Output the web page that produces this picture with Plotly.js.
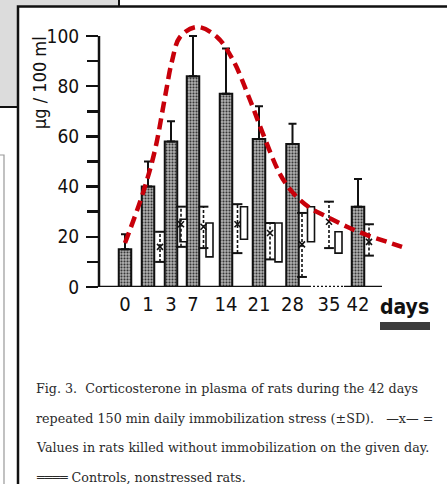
<!DOCTYPE html>
<html>
<head>
<meta charset="utf-8">
<script src="https://cdn.plot.ly/plotly-3.0.1.min.js"></script>
<style>html,body{margin:0;padding:0;background:#fff}#chart{width:447px;height:484px}</style>
</head>
<body>
<div id="chart"></div>
<script>
// ---------- data ----------
const dayLabels   = ['0','1','3','7','14','21','28','35','42'];

// stressed rats: mean and upper end of +SD bar
const stressDays  = ['0','1','3','7','14','21','28','42'];
const stressMean  = [15, 40, 58, 84, 77, 59, 57, 32];
const stressSDtop = [21, 50, 66, 100, 95, 72, 65, 43];

// rats killed without immobilization on given day (-x-)
const killedDays  = ['1','3','7','14','21','28','35','42'];
const killedMean  = [16, 25, 24, 25, 21.5, 17, 26, 18];
const killedLow   = [10, 16, 15.5, 13.5, 11, 4, 15.5, 12.5];
const killedHigh  = [22, 32, 32, 33, 25.5, 29.5, 34, 25];

// controls, nonstressed rats (open boxes = range)
const controlDays = ['3','7','14','21','28','35'];
const controlLow  = [18, 12, 19, 10, 18, 13.5];
const controlHigh = [27, 25.5, 32, 25.5, 32, 22];

// red dashed trend curve drawn over the figure
const curveX = [2.6, 4.4, 5.6, 6.6, 7.3, 8.1, 9.8, 11.8, 13.4, 15.1, 16.4, 18.1, 19.4, 21.1, 22.8, 24.8, 26.8, 28.8, 30.3];
const curveY = [17.5, 37.5, 54.6, 75.7, 90, 99.6, 103.6, 99.6, 90.4, 74.5, 61, 45, 37.5, 31.5, 28, 24, 20.7, 18, 16];

// ---------- layout positions (axis units) ----------
const slotX    = {'0':2.6,'1':4.9,'3':7.2,'7':9.4,'14':12.7,'21':16.0,'28':19.35,'35':23.0,'42':25.9};
const killedX  = {'1':6.1,'3':8.2,'7':10.45,'14':13.85,'21':17.1,'28':20.3,'35':23.0,'42':27.0};
const controlX = {'3':8.45,'7':11.05,'14':14.5,'21':17.95,'28':21.2,'35':23.95};

const W = 447, H = 484;
const px = x => x / W;
const py = y => 1 - y / H;
const NARROW = 'DejaVu Sans Condensed, Liberation Sans Narrow, Roboto, Inter, sans-serif';

// ---------- traces ----------
const bars = {
  type: 'bar',
  x: stressDays.map(d => slotX[d]),
  y: stressMean,
  width: 1.25,
  marker: {
    color: '#8c8c8c',
    line: {color: '#111', width: 2},
    pattern: {shape: '.', fgcolor: '#2e2e2e', bgcolor: '#b4b4b4', size: 3, solidity: 0.4}
  },
  error_y: {
    type: 'data', symmetric: false,
    array: stressSDtop.map((v, i) => v - stressMean[i]),
    arrayminus: stressMean.map(() => 0),
    color: '#111', thickness: 2, width: 4
  },
  hoverinfo: 'skip'
};

const controls = {
  type: 'bar',
  x: controlDays.map(d => controlX[d]),
  base: controlLow,
  y: controlHigh.map((v, i) => v - controlLow[i]),
  width: 0.7,
  marker: {color: '#fff', line: {color: '#111', width: 1.6}},
  hoverinfo: 'skip'
};

const kx = [], ky = [];
killedDays.forEach((d, i) => { kx.push(killedX[d], killedX[d], null); ky.push(killedLow[i], killedHigh[i], null); });
const killedStem = {
  type: 'scatter', mode: 'lines', x: kx, y: ky,
  line: {color: '#111', width: 1.6, dash: '3px,2px'}, hoverinfo: 'skip'
};
const killedCaps = {
  type: 'scatter', mode: 'markers',
  x: killedDays.map(d => killedX[d]).concat(killedDays.map(d => killedX[d])),
  y: killedLow.concat(killedHigh),
  marker: {symbol: 'line-ew', size: 7, line: {color: '#111', width: 2}}, hoverinfo: 'skip'
};
const killedMarks = {
  type: 'scatter', mode: 'markers',
  x: killedDays.map(d => killedX[d]), y: killedMean,
  marker: {symbol: 'x-thin', size: 6, line: {color: '#111', width: 1.6}}, hoverinfo: 'skip'
};

const curve = {
  type: 'scatter', mode: 'lines', x: curveX, y: curveY,
  line: {color: '#c8000a', width: 4.5, dash: '11px,6px', shape: 'spline', smoothing: 1},
  hoverinfo: 'skip'
};

// ---------- decoration shapes ----------
const shapes = [
  {type: 'rect', xref: 'paper', yref: 'paper', x0: px(-2), x1: px(119), y0: py(-2), y1: py(107),
   fillcolor: '#dcdcdc', line: {color: '#111', width: 2}, layer: 'below'},
  {type: 'rect', xref: 'paper', yref: 'paper', x0: px(-3), x1: px(4), y0: py(155), y1: py(490),
   fillcolor: 'rgba(0,0,0,0)', line: {color: '#999', width: 1.2}, layer: 'below'},
  {type: 'rect', xref: 'paper', yref: 'paper', x0: px(18), x1: px(452), y0: py(6.5), y1: py(492),
   fillcolor: '#fff', line: {color: '#111', width: 2.5}, layer: 'below'},
  // y axis line up to 100
  {type: 'line', xref: 'paper', yref: 'y', x0: px(99), x1: px(99), y0: 0, y1: 100, line: {color: '#111', width: 2.5}},
  // x axis baseline (solid / dotted gap at day 35 / solid)
  {type: 'line', xref: 'x', yref: 'y', x0: -1.2, x1: 21.0, y0: 0, y1: 0, line: {color: '#111', width: 2.5}},
  {type: 'line', xref: 'x', yref: 'y', x0: 21.0, x1: 24.5, y0: 0, y1: 0, line: {color: '#111', width: 2.5, dash: '2px,2px'}},
  {type: 'line', xref: 'x', yref: 'y', x0: 24.5, x1: 28.3, y0: 0, y1: 0, line: {color: '#111', width: 2.5}},
  // dark smudge under "days"
  {type: 'rect', xref: 'paper', yref: 'paper', x0: px(380), x1: px(430), y0: py(330), y1: py(322),
   fillcolor: '#3c3c3c', line: {width: 0}}
];

const capFont = {family: 'DejaVu Serif', size: 12.7, color: '#2a2a2a'};
const capLines = [
  'Fig. 3.  Corticosterone in plasma of rats during the 42 days',
  'repeated 150 min daily immobilization stress (±SD).   \u2014x\u2014 =',
  'Values in rats killed without immobilization on the given day.',
  '\u2550\u2550\u2550\u2550 Controls, nonstressed rats.'
];
const capY = [388, 418, 447, 477];
const annotations = capLines.map((t, i) => ({
  xref: 'paper', yref: 'paper', x: px(34), y: py(capY[i]), xanchor: 'left', yanchor: 'middle',
  text: t, showarrow: false, font: capFont
}));
annotations.push({
  xref: 'paper', yref: 'paper', x: px(39), y: py(83), textangle: -90, text: 'µg / 100 ml',
  showarrow: false, xanchor: 'center', yanchor: 'middle',
  font: {family: NARROW, size: 18, color: '#111'}
});
annotations.push({
  xref: 'paper', yref: 'paper', x: px(404), y: py(307), text: 'days', showarrow: false,
  xanchor: 'center', yanchor: 'middle',
  font: {family: NARROW, size: 21, color: '#111', weight: 'bold'}
});

const layout = {
  width: W, height: H,
  margin: {l: 0, r: 0, t: 0, b: 0},
  paper_bgcolor: '#fff', plot_bgcolor: 'rgba(0,0,0,0)',
  showlegend: false, barmode: 'overlay', bargap: 0,
  xaxis: {
    domain: [px(99), px(409)], range: [0, 31], showgrid: false, zeroline: false, showline: false,
    tickmode: 'array', tickvals: dayLabels.map(d => slotX[d]), ticktext: dayLabels, ticks: '',
    ticklabelstandoff: 3,
    tickfont: {family: NARROW, size: 20, color: '#111'}
  },
  yaxis: {
    domain: [py(287), py(287 - 110 * 2.51)], range: [0, 110], showgrid: false, zeroline: false, showline: false,
    tickmode: 'array', tickvals: [0, 20, 40, 60, 80, 100], ticks: 'outside', ticklen: 12, tickwidth: 2.5, tickcolor: '#111',
    ticklabelstandoff: 3,
    minor: {tickmode: 'array', tickvals: [10, 30, 50, 70, 90], ticks: 'outside', ticklen: 11, tickwidth: 2.5, tickcolor: '#111', showgrid: false},
    tickfont: {family: NARROW, size: 19, color: '#111'}
  },
  shapes: shapes,
  annotations: annotations
};

Plotly.newPlot('chart', [bars, controls, killedStem, killedCaps, killedMarks, curve], layout, {displayModeBar: false, staticPlot: true});
</script>
</body>
</html>
